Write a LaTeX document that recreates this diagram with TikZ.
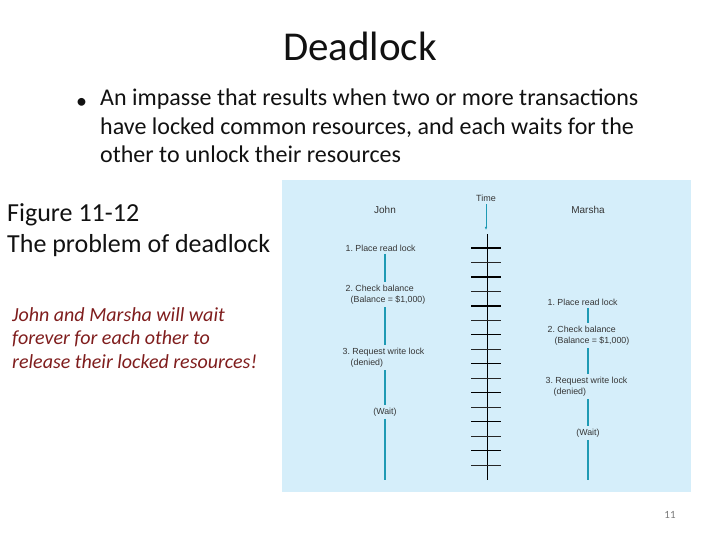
\documentclass[tikz,border=0pt]{standalone}
\usepackage{fontspec}
\setmainfont{Carlito}
\newfontfamily\figfont{Liberation Sans}
\usetikzlibrary{arrows.meta,calc,positioning}
\definecolor{ink}{HTML}{111111}
\definecolor{panel}{HTML}{D5EEFA}
\definecolor{life}{HTML}{1E9AB4}
\definecolor{note}{HTML}{7F1D1D}
\definecolor{pageno}{HTML}{7A7A7A}
\frenchspacing
\tikzset{
  slidetext/.style={inner sep=0pt,text=ink,align=left,anchor=west},
  figtext/.style={font=\figfont\fontsize{8.8}{11.5}\selectfont,inner sep=2.5pt,text=ink!85,align=left},
  lifeline/.style={line width=1.3pt,draw=life},
  timearrow/.style={-{Latex[length=3pt,width=2.5pt]},line width=0.6pt,draw=life},
  tickthick/.style={line width=1.3pt,draw=black},
  tickthin/.style={line width=1pt,draw=black!85}
}
\begin{document}
\begin{tikzpicture}[x=1pt,y=-1pt]
  \useasboundingbox (0,0) rectangle (720,540);
  % slide texts
  \node[font=\fontsize{41}{48}\selectfont,text=ink] (title) at (360,46) {Deadlock};
  \node[slidetext] (bullet) at (76,103) {\fontsize{22}{24}\selectfont\textbullet};
  \node[slidetext,anchor=north west,font=\fontsize{24}{28.5}\selectfont] (point) at (100,89)
    {An impasse that results when two or more transactions\\
     have locked common resources, and each waits for the\\
     other to unlock their resources};
  \node[slidetext,anchor=north west,font=\fontsize{26}{31}\selectfont] (caption) at (7,203)
    {Figure 11-12\\The problem of deadlock};
  \node[slidetext,anchor=north west,text=note,font=\itshape\fontsize{20}{23.5}\selectfont] (remark) at (12,307)
    {John and Marsha will wait\\forever for each other to\\release their locked resources!};
  \node[text=pageno,font=\fontsize{11}{13}\selectfont] (page) at (670,515) {11};

  % figure panel
  \fill[panel] (282,180) rectangle (691,492);
  \coordinate (jx) at (385,0);
  \coordinate (mx) at (588,0);
  \coordinate (jend) at (385,480);
  \coordinate (mend) at (588,480);

  % John
  \node[figtext,font=\figfont\fontsize{10}{12}\selectfont] (john) at (385,210) {John};
  \node[figtext,anchor=west] (j1) at (343,248) {1. Place read lock};
  \node[figtext,anchor=north west] (j2) at (343,282) {2. Check balance\\\hspace*{5pt}(Balance = \$1,000)};
  \node[figtext,anchor=north west] (j3) at (340,345) {3. Request write lock\\\hspace*{8pt}(denied)};
  \node[figtext] (j4) at (385,412) {(Wait)};
  \draw[lifeline] (j1.south -| jx) -- (j2.north -| jx);
  \draw[lifeline] (j2.south -| jx) -- (j3.north -| jx);
  \draw[lifeline] (j3.south -| jx) -- (j4.north -| jx);
  \draw[lifeline] (j4.south -| jx) -- (jend);

  % Marsha
  \node[figtext,font=\figfont\fontsize{10}{12}\selectfont] (marsha) at (588,210) {Marsha};
  \node[figtext,anchor=west] (m1) at (545,302) {1. Place read lock};
  \node[figtext,anchor=north west] (m2) at (545,323) {2. Check balance\\\hspace*{7pt}(Balance = \$1,000)};
  \node[figtext,anchor=north west] (m3) at (543,374) {3. Request write lock\\\hspace*{8pt}(denied)};
  \node[figtext] (m4) at (588,433) {(Wait)};
  \draw[lifeline] (m1.south -| mx) -- (m2.north -| mx);
  \draw[lifeline] (m2.south -| mx) -- (m3.north -| mx);
  \draw[lifeline] (m3.south -| mx) -- (m4.north -| mx);
  \draw[lifeline] (m4.south -| mx) -- (mend);

  % time axis
  \node[figtext,font=\figfont\fontsize{9}{10}\selectfont] (time) at (486,198) {Time};
  \coordinate (tip) at (486,230);
  \coordinate (axtop) at (487,234);
  \coordinate (axbot) at (487,480);
  \draw[timearrow] (time.south) -- (tip);
  \draw[line width=0.9pt] (axtop) -- (axbot);
  \foreach \i in {0,...,15}{
    \pgfmathsetmacro{\ty}{248+14.47*\i}
    \ifodd\i
      \draw[tickthin] (471,\ty) -- (501,\ty);
    \else
      \draw[tickthick] (471,\ty) -- (501,\ty);
    \fi
  }
\end{tikzpicture}
\end{document}
